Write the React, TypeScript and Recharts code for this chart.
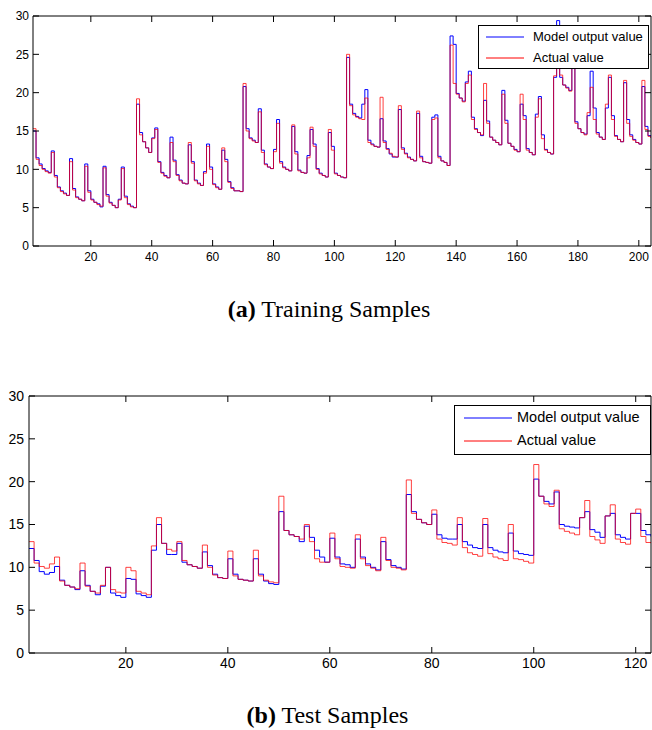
import React from 'react';
import { LineChart, Line, XAxis, YAxis, Legend } from 'recharts';

// training samples (1..204)
const trainActual = [
  15.3, 11.3, 10.5, 10.0, 9.7, 9.5, 12.2, 9.0, 7.6, 7.1,
  6.8, 6.6, 11.0, 7.3, 6.3, 6.1, 5.9, 10.4, 7.0, 6.0,
  5.7, 5.4, 5.2, 10.2, 6.5, 5.6, 5.3, 5.0, 6.0, 10.1,
  6.3, 5.4, 5.1, 5.0, 19.2, 14.5, 13.6, 12.8, 12.2, 14.0,
  15.2, 10.9, 9.5, 9.1, 8.9, 13.5, 11.0, 9.2, 8.5, 8.2,
  8.1, 13.5, 10.8, 8.5, 8.1, 7.9, 9.5, 13.0, 10.0, 8.0,
  7.6, 7.4, 12.8, 11.0, 8.3, 7.5, 7.2, 7.2, 7.1, 21.2,
  15.0, 14.0, 13.7, 13.5, 17.5, 12.2, 10.6, 10.3, 10.1, 12.3,
  16.0, 10.8, 10.2, 10.0, 9.8, 15.8, 12.0, 9.8, 9.6, 9.5,
  11.5, 15.5, 13.0, 10.0, 9.4, 9.2, 9.0, 15.2, 12.5, 9.4,
  9.2, 9.0, 8.9, 25.0, 18.3, 17.1, 16.8, 16.6, 16.5, 19.3,
  13.5, 13.2, 13.0, 12.9, 19.4, 13.5, 12.6, 12.1, 11.7, 11.6,
  18.3, 12.6, 12.0, 11.5, 11.3, 11.1, 17.6, 11.5, 11.0, 10.9,
  10.8, 16.5, 16.7, 11.5, 11.1, 10.9, 10.5, 26.2, 21.2, 19.8,
  19.3, 18.8, 21.2, 22.3, 16.5, 15.2, 14.8, 14.5, 21.2, 16.0,
  14.2, 13.8, 13.5, 13.2, 19.8, 16.0, 13.4, 13.0, 12.5, 12.3,
  19.8, 16.5, 12.5, 12.2, 11.9, 16.8, 19.2, 14.0, 12.5, 12.2,
  12.0, 22.2, 27.5, 22.3, 21.0, 20.6, 20.2, 24.5, 16.0, 15.3,
  14.8, 14.5, 17.4, 20.7, 16.5, 14.6, 14.2, 13.9, 18.5, 22.3,
  16.5, 14.3, 13.9, 13.6, 21.6, 16.0, 14.3, 13.8, 13.5, 13.3,
  21.6, 15.2, 14.3, 14.1,
];

const trainModel = [
  15.0, 11.5, 10.7, 10.1, 9.8, 9.6, 12.4, 9.2, 7.7, 7.2,
  6.9, 6.6, 11.4, 7.5, 6.4, 6.1, 5.9, 10.7, 7.2, 6.1,
  5.7, 5.5, 5.1, 10.4, 6.7, 5.7, 5.3, 5.0, 6.1, 10.3,
  6.5, 5.5, 5.2, 5.0, 18.5, 14.8, 13.6, 12.8, 12.2, 14.1,
  15.4, 11.0, 9.6, 9.2, 8.9, 14.2, 11.2, 9.3, 8.6, 8.2,
  8.1, 13.2, 11.0, 8.6, 8.2, 7.9, 9.7, 13.3, 10.3, 8.1,
  7.7, 7.4, 12.5, 11.3, 8.4, 7.6, 7.2, 7.2, 7.1, 20.8,
  15.3, 14.1, 13.8, 13.5, 17.9, 12.5, 10.7, 10.3, 10.1, 12.6,
  16.5, 11.0, 10.3, 10.0, 9.8, 15.6, 12.3, 9.9, 9.6, 9.5,
  11.8, 15.2, 13.3, 10.1, 9.5, 9.2, 9.0, 14.8, 13.0, 9.5,
  9.2, 9.0, 8.9, 24.6, 18.5, 17.3, 16.9, 16.7, 18.5, 20.4,
  13.8, 13.3, 13.0, 12.9, 16.6, 13.7, 12.7, 12.0, 11.6, 11.6,
  17.8, 12.8, 12.1, 11.6, 11.3, 11.1, 17.3, 11.7, 11.0, 10.9,
  10.8, 16.8, 17.1, 11.7, 11.1, 10.9, 10.5, 27.4, 26.3, 19.9,
  19.3, 18.9, 21.4, 22.8, 16.8, 15.3, 14.8, 14.4, 19.0, 16.3,
  14.2, 13.8, 13.5, 13.2, 20.3, 16.4, 13.4, 13.0, 12.6, 12.3,
  18.5, 17.0, 12.7, 12.2, 11.9, 17.2, 19.5, 14.5, 12.6, 12.2,
  12.0, 22.0, 29.4, 22.0, 21.0, 20.7, 20.3, 24.0, 16.2, 15.3,
  14.8, 14.6, 17.0, 22.8, 18.0, 14.8, 14.2, 13.9, 18.0, 22.0,
  17.0, 14.4, 13.9, 13.6, 21.3, 16.5, 14.5, 13.9, 13.5, 13.3,
  20.8, 15.6, 14.4, 14.1,
];

// test samples (1..123)
const testActual = [
  13.0, 10.5, 10.1, 9.9, 10.4, 11.2, 8.4, 7.9, 7.7, 7.5,
  10.5, 7.8, 7.2, 7.0, 7.9, 10.0, 7.4, 7.1, 7.0, 10.0,
  9.6, 7.2, 7.0, 6.8, 12.5, 15.8, 12.8, 12.1, 11.9, 13.0,
  10.8, 10.3, 10.1, 9.9, 12.6, 10.0, 9.1, 8.8, 8.7, 11.9,
  9.0, 8.6, 8.5, 8.4, 12.0, 9.0, 8.5, 8.3, 8.2, 18.3,
  14.3, 13.8, 13.6, 13.3, 15.0, 13.0, 11.0, 10.6, 10.6, 14.0,
  11.0, 10.1, 10.0, 9.9, 13.8, 11.0, 10.2, 9.9, 9.6, 13.5,
  10.8, 10.0, 9.9, 9.7, 20.2, 16.3, 15.6, 15.2, 15.0, 16.7,
  13.3, 12.9, 12.8, 12.6, 15.8, 12.3, 11.7, 11.5, 11.3, 15.7,
  11.6, 11.2, 11.0, 10.8, 15.0, 11.0, 10.9, 10.7, 10.5, 22.0,
  18.3, 17.4, 17.1, 19.0, 14.5, 14.2, 14.0, 13.8, 15.8, 17.8,
  13.6, 13.2, 12.8, 16.0, 17.3, 13.3, 12.9, 12.7, 16.3, 16.8,
  13.6, 12.9, 12.8,
];

const testModel = [
  12.2, 10.8, 9.5, 9.2, 9.4, 10.1, 8.5, 7.9, 7.7, 7.4,
  9.6, 7.9, 7.2, 6.8, 7.8, 10.0, 7.0, 6.7, 6.5, 8.7,
  8.6, 6.9, 6.7, 6.5, 12.0, 15.0, 12.8, 11.5, 11.5, 12.8,
  10.6, 10.3, 10.1, 9.9, 11.8, 10.2, 9.2, 8.8, 8.7, 11.0,
  9.2, 8.6, 8.5, 8.4, 11.0, 9.2, 8.4, 8.1, 8.0, 16.5,
  14.3, 13.8, 13.6, 13.0, 14.8, 13.5, 12.0, 11.2, 10.6, 13.4,
  11.2, 10.4, 10.3, 10.0, 13.3, 11.2, 10.4, 10.0, 9.7, 13.0,
  10.9, 10.2, 10.0, 9.8, 18.5, 16.5, 15.6, 15.2, 15.0, 16.2,
  13.8, 13.4, 13.3, 13.3, 15.0, 13.0, 12.6, 12.3, 12.2, 15.0,
  12.3, 12.0, 11.8, 11.7, 14.0, 11.9, 11.6, 11.5, 11.4, 20.3,
  18.3, 17.7, 17.4, 18.8, 15.0, 14.8, 14.7, 14.6, 15.8, 16.5,
  14.4, 14.1, 13.5, 16.0, 16.3, 13.8, 13.5, 13.3, 16.3, 16.3,
  14.3, 13.8, 13.6,
];

const trainTicks = [20, 40, 60, 80, 100, 120, 140, 160, 180, 200];
const testTicks = [20, 40, 60, 80, 100, 120];
const yTicks = [0, 5, 10, 15, 20, 25, 30];

const seriesNames = ['Model output value', 'Actual value'];

const toRows = (model: number[], actual: number[]) =>
  model.map((m, i) => ({ x: i + 1, model: m, actual: actual[i] }));

const trainData = toRows(trainModel, trainActual);
const testData = toRows(testModel, testActual);

const SANS = '"Liberation Sans", Arial, Helvetica, sans-serif';
const SERIF = '"Liberation Serif", "Times New Roman", serif';
const TICK_LEN = 6;

// matlab-style inward tick marks, drawn by the axis tick renderer
const bottomTick = (margin: number, fontSize: number) => (props: any) => {
  const { x, y, payload } = props;
  const base = y - margin;
  return (
    <g>
      <line x1={x} x2={x} y1={base} y2={base - TICK_LEN} stroke="#000" strokeWidth={1} />
      <text x={x} y={y} dy="0.71em" textAnchor="middle" fill="#000" fontSize={fontSize} fontFamily={SANS}>
        {payload.value}
      </text>
    </g>
  );
};

const leftTick = (margin: number, fontSize: number) => (props: any) => {
  const { x, y, payload } = props;
  const base = x + margin;
  return (
    <g>
      <line x1={base} x2={base + TICK_LEN} y1={y} y2={y} stroke="#000" strokeWidth={1} />
      <text x={x} y={y} dy="0.355em" textAnchor="end" fill="#000" fontSize={fontSize} fontFamily={SANS}>
        {payload.value}
      </text>
    </g>
  );
};

const topTick = (props: any) => (
  <line x1={props.x} x2={props.x} y1={props.y} y2={props.y + TICK_LEN} stroke="#000" strokeWidth={1} />
);

const rightTick = (props: any) => (
  <line x1={props.x} x2={props.x - TICK_LEN} y1={props.y} y2={props.y} stroke="#000" strokeWidth={1} />
);

const makeLegend = (fontSize: number, rowH: number, padL: number, lineW: number, gap: number) =>
  (props: any) => {
    const items = [...(props.payload || [])].sort(
      (a: any, b: any) => seriesNames.indexOf(a.value) - seriesNames.indexOf(b.value)
    );
    return (
      <div
        style={{
          border: '1px solid #000',
          background: '#fff',
          boxSizing: 'border-box',
          width: '100%',
          height: '100%',
          paddingLeft: padL,
          fontFamily: SANS,
          fontSize,
          color: '#000',
        }}
      >
        {items.map((it: any) => (
          <div key={it.value} style={{ height: rowH, lineHeight: `${rowH}px`, display: 'flex', alignItems: 'center' }}>
            <svg width={lineW} height={4} style={{ marginRight: gap }}>
              <line x1={0} x2={lineW} y1={2} y2={2} stroke={it.color} strokeWidth={1} />
            </svg>
            <span>{it.value}</span>
          </div>
        ))}
      </div>
    );
  };

interface PanelProps {
  data: { x: number; model: number; actual: number }[];
  width: number;
  height: number;
  left: number;
  top: number;
  xMax: number;
  xTicks: number[];
  fontSize: number;
  xAxisH: number;
  xMargin: number;
  yMargin: number;
  legend: { left: number; top: number; width: number; height: number; render: any };
}

// model output is bound to the bottom/left axes, actual value to the top/right
// axes; both pairs share the same domains so the lines overlay exactly.
// top/right axes get 1px of room (zero-size axes are not drawn at all)
const Panel: React.FC<PanelProps> = (p) => (
  <LineChart
    width={p.width}
    height={p.height}
    data={p.data}
    margin={{ top: p.top - 1, right: 0, bottom: 0, left: 0 }}
  >
    <XAxis
      xAxisId="b"
      dataKey="x"
      type="number"
      domain={[1, p.xMax]}
      ticks={p.xTicks}
      allowDataOverflow
      height={p.xAxisH}
      tickSize={0}
      tickMargin={p.xMargin}
      axisLine={{ stroke: '#000' }}
      tickLine={false}
      tick={bottomTick(p.xMargin, p.fontSize)}
    />
    <XAxis
      xAxisId="t"
      dataKey="x"
      orientation="top"
      type="number"
      domain={[1, p.xMax]}
      ticks={p.xTicks}
      allowDataOverflow
      height={1}
      tickSize={0}
      tickMargin={0}
      tick={topTick}
      axisLine={{ stroke: '#000' }}
      tickLine={false}
    />
    <YAxis
      yAxisId="l"
      type="number"
      domain={[0, 30]}
      ticks={yTicks}
      allowDataOverflow
      width={p.left}
      tickSize={0}
      tickMargin={p.yMargin}
      axisLine={{ stroke: '#000' }}
      tickLine={false}
      tick={leftTick(p.yMargin, p.fontSize)}
    />
    <YAxis
      yAxisId="r"
      orientation="right"
      type="number"
      domain={[0, 30]}
      ticks={yTicks}
      allowDataOverflow
      width={1}
      tickSize={0}
      tickMargin={0}
      tick={rightTick}
      axisLine={{ stroke: '#000' }}
      tickLine={false}
    />
    <Line
      xAxisId="b"
      yAxisId="l"
      name={seriesNames[0]}
      dataKey="model"
      type="stepAfter"
      stroke="#0000ff"
      strokeWidth={1}
      dot={false}
      isAnimationActive={false}
    />
    <Line
      xAxisId="t"
      yAxisId="r"
      name={seriesNames[1]}
      dataKey="actual"
      type="stepAfter"
      stroke="#ff0000"
      strokeOpacity={0.75}
      strokeWidth={1}
      dot={false}
      isAnimationActive={false}
    />
    <Legend
      layout="horizontal"
      verticalAlign="middle"
      align="center"
      width={p.legend.width}
      height={p.legend.height}
      wrapperStyle={{ left: p.legend.left, top: p.legend.top }}
      content={p.legend.render}
    />
  </LineChart>
);

export default function App() {
  return (
    <div style={{ position: 'absolute', left: 0, top: 0, width: 652, height: 730, background: '#fff' }}>
      <div style={{ position: 'absolute', left: 0, top: 0 }}>
        <Panel
          data={trainData}
          width={652}
          height={270}
          left={33}
          top={16}
          xMax={204}
          xTicks={trainTicks}
          fontSize={12}
          xAxisH={24}
          xMargin={6}
          yMargin={4}
          legend={{ left: 478, top: 25, width: 171, height: 44, render: makeLegend(13, 21, 7, 38, 9) }}
        />
      </div>
      <div
        style={{
          position: 'absolute', left: 0, top: 297, width: 658, textAlign: 'center',
          fontFamily: SERIF, fontSize: 24, lineHeight: '24px', color: '#000',
        }}
      >
        <b>(a)</b> Training Samples
      </div>
      <div style={{ position: 'absolute', left: 0, top: 380 }}>
        <Panel
          data={testData}
          width={652}
          height={300}
          left={29}
          top={16}
          xMax={123}
          xTicks={testTicks}
          fontSize={14}
          xAxisH={27}
          xMargin={5}
          yMargin={5}
          legend={{ left: 454, top: 25, width: 197, height: 50, render: makeLegend(14.5, 23, 9, 48, 5) }}
        />
      </div>
      <div
        style={{
          position: 'absolute', left: 0, top: 703, width: 655, textAlign: 'center',
          fontFamily: SERIF, fontSize: 24, lineHeight: '24px', color: '#000',
        }}
      >
        <b>(b)</b> Test Samples
      </div>
    </div>
  );
}
